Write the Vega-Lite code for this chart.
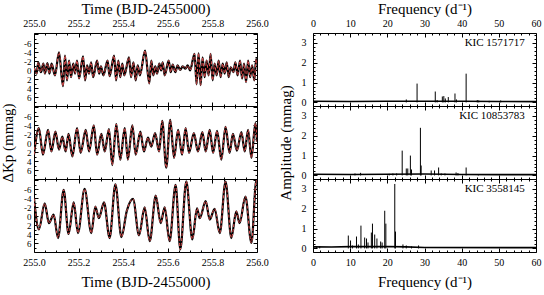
{
"$schema":"https://vega.github.io/schema/vega-lite/v6.json",
"background":"white",
"padding":{"left":0,"top":0,"right":0,"bottom":0},
"config":{
 "font":"Liberation Serif",
 "view":{"stroke":"black","strokeWidth":1},
 "axis":{"labelFont":"Liberation Serif","labelFontSize":10,"titleFont":"Liberation Serif","titleFontSize":15,"titleFontWeight":"normal","labelColor":"black","titleColor":"black","tickColor":"black","domain":false,"grid":false,"labelFlush":false,"labelOverlap":false,"labelBound":false,"offset":0},
 "axisTop":{"labelFont":"Liberation Serif","titleFont":"Liberation Serif","titleFontWeight":"normal"},
 "axisBottom":{"labelFont":"Liberation Serif","titleFont":"Liberation Serif","titleFontWeight":"normal"},
 "axisLeft":{"labelFont":"Liberation Serif","titleFont":"Liberation Serif","titleFontWeight":"normal"},
 "axisRight":{"labelFont":"Liberation Serif","titleFont":"Liberation Serif","titleFontWeight":"normal"}
},
"datasets":{
 "lc1":[{"t":255.000,"v":-0.6},{"t":255.012,"v":0.7},{"t":255.019,"v":-1.8},{"t":255.031,"v":0.4},{"t":255.042,"v":-1.5},{"t":255.049,"v":0.7},{"t":255.060,"v":-1.6},{"t":255.069,"v":0.7},{"t":255.079,"v":-1.5},{"t":255.094,"v":1.1},{"t":255.112,"v":-4.0},{"t":255.130,"v":3.5},{"t":255.139,"v":-3.3},{"t":255.148,"v":2.2},{"t":255.157,"v":-2.2},{"t":255.166,"v":1.5},{"t":255.176,"v":-1.5},{"t":255.184,"v":0.7},{"t":255.193,"v":-2.2},{"t":255.202,"v":1.8},{"t":255.220,"v":-3.1},{"t":255.229,"v":2.2},{"t":255.238,"v":-1.1},{"t":255.247,"v":0.7},{"t":255.256,"v":-1.8},{"t":255.265,"v":1.5},{"t":255.283,"v":-2.2},{"t":255.292,"v":0.7},{"t":255.300,"v":-0.9},{"t":255.311,"v":1.1},{"t":255.330,"v":-2.2},{"t":255.339,"v":1.3},{"t":255.359,"v":-3.3},{"t":255.368,"v":2.2},{"t":255.378,"v":-2.2},{"t":255.387,"v":1.5},{"t":255.396,"v":-1.5},{"t":255.405,"v":1.1},{"t":255.426,"v":-2.9},{"t":255.435,"v":1.5},{"t":255.446,"v":-1.8},{"t":255.456,"v":2.2},{"t":255.465,"v":-1.1},{"t":255.475,"v":1.1},{"t":255.498,"v":-4.4},{"t":255.517,"v":2.9},{"t":255.526,"v":-2.2},{"t":255.535,"v":1.1},{"t":255.544,"v":-0.9},{"t":255.552,"v":0.7},{"t":255.562,"v":-1.5},{"t":255.570,"v":0.0},{"t":255.577,"v":-1.8},{"t":255.586,"v":1.1},{"t":255.604,"v":-2.2},{"t":255.613,"v":0.4},{"t":255.622,"v":-1.3},{"t":255.634,"v":0.4},{"t":255.644,"v":-1.1},{"t":255.655,"v":-0.1},{"t":255.667,"v":-0.9},{"t":255.679,"v":-0.4},{"t":255.689,"v":-1.1},{"t":255.700,"v":0.0},{"t":255.720,"v":-3.7},{"t":255.729,"v":3.1},{"t":255.738,"v":-3.8},{"t":255.747,"v":3.3},{"t":255.756,"v":-2.9},{"t":255.765,"v":1.5},{"t":255.774,"v":-2.2},{"t":255.783,"v":1.1},{"t":255.792,"v":-3.7},{"t":255.801,"v":2.2},{"t":255.810,"v":-1.5},{"t":255.819,"v":1.1},{"t":255.828,"v":-2.2},{"t":255.837,"v":1.5},{"t":255.846,"v":-1.5},{"t":255.855,"v":0.7},{"t":255.864,"v":-1.8},{"t":255.873,"v":1.5},{"t":255.882,"v":-0.7},{"t":255.894,"v":0.4},{"t":255.903,"v":-1.8},{"t":255.913,"v":1.1},{"t":255.924,"v":-2.2},{"t":255.933,"v":1.8},{"t":255.942,"v":-1.5},{"t":255.951,"v":2.6},{"t":255.960,"v":-2.2},{"t":255.969,"v":1.5},{"t":255.978,"v":-1.1},{"t":255.988,"v":2.2},{"t":255.996,"v":-2.5},{"t":256.000,"v":-1.5}],
 "lc2":[{"t":255.000,"v":2.5},{"t":255.022,"v":-3.4},{"t":255.040,"v":2.5},{"t":255.063,"v":-3.0},{"t":255.078,"v":1.8},{"t":255.096,"v":-2.6},{"t":255.112,"v":1.4},{"t":255.127,"v":-1.5},{"t":255.142,"v":1.8},{"t":255.155,"v":-2.1},{"t":255.172,"v":2.9},{"t":255.193,"v":-3.4},{"t":255.209,"v":2.1},{"t":255.232,"v":-3.0},{"t":255.247,"v":1.8},{"t":255.268,"v":-4.0},{"t":255.283,"v":2.5},{"t":255.302,"v":-2.1},{"t":255.317,"v":1.8},{"t":255.336,"v":-3.2},{"t":255.351,"v":4.8},{"t":255.369,"v":-4.3},{"t":255.387,"v":3.6},{"t":255.407,"v":-3.4},{"t":255.421,"v":3.6},{"t":255.441,"v":-4.0},{"t":255.456,"v":2.5},{"t":255.477,"v":-2.6},{"t":255.493,"v":1.8},{"t":255.511,"v":-1.3},{"t":255.526,"v":0.7},{"t":255.543,"v":-2.3},{"t":255.561,"v":1.8},{"t":255.575,"v":-5.0},{"t":255.593,"v":5.4},{"t":255.611,"v":-5.2},{"t":255.628,"v":3.2},{"t":255.646,"v":-3.0},{"t":255.664,"v":2.5},{"t":255.680,"v":-3.4},{"t":255.695,"v":2.1},{"t":255.717,"v":-2.3},{"t":255.735,"v":1.8},{"t":255.755,"v":-2.5},{"t":255.770,"v":1.8},{"t":255.788,"v":-3.0},{"t":255.803,"v":2.1},{"t":255.821,"v":-2.8},{"t":255.840,"v":3.6},{"t":255.859,"v":-3.7},{"t":255.877,"v":2.1},{"t":255.892,"v":-2.1},{"t":255.910,"v":1.6},{"t":255.930,"v":-2.5},{"t":255.945,"v":1.8},{"t":255.960,"v":-3.0},{"t":255.975,"v":3.2},{"t":255.993,"v":-4.5},{"t":256.000,"v":-0.4}],
 "lc3":[{"t":255.000,"v":-4.0},{"t":255.022,"v":2.9},{"t":255.048,"v":-2.9},{"t":255.067,"v":1.5},{"t":255.088,"v":-0.4},{"t":255.108,"v":4.8},{"t":255.133,"v":-5.9},{"t":255.155,"v":3.9},{"t":255.178,"v":-3.1},{"t":255.197,"v":3.7},{"t":255.227,"v":-6.1},{"t":255.257,"v":3.7},{"t":255.275,"v":-2.2},{"t":255.291,"v":0.4},{"t":255.314,"v":-3.1},{"t":255.339,"v":4.8},{"t":255.365,"v":-7.1},{"t":255.392,"v":4.6},{"t":255.416,"v":-1.2},{"t":255.444,"v":-3.9},{"t":255.471,"v":4.2},{"t":255.496,"v":-2.0},{"t":255.519,"v":5.5},{"t":255.546,"v":-4.6},{"t":255.568,"v":1.5},{"t":255.586,"v":-2.0},{"t":255.608,"v":5.5},{"t":255.635,"v":-7.0},{"t":255.656,"v":7.3},{"t":255.683,"v":-7.8},{"t":255.710,"v":5.1},{"t":255.731,"v":-1.8},{"t":255.743,"v":0.4},{"t":255.770,"v":-3.4},{"t":255.788,"v":0.7},{"t":255.810,"v":-1.7},{"t":255.833,"v":3.7},{"t":255.859,"v":-7.7},{"t":255.885,"v":4.8},{"t":255.907,"v":-1.1},{"t":255.922,"v":1.5},{"t":255.948,"v":-4.4},{"t":255.975,"v":5.9},{"t":255.997,"v":-8.0},{"t":256.000,"v":-7.5}],
 "s1":[{"f":25.1,"a":0.15},{"f":28.0,"a":0.95},{"f":32.9,"a":0.55},{"f":33.4,"a":0.12},{"f":34.8,"a":0.3},{"f":35.2,"a":0.32},{"f":35.6,"a":0.2},{"f":36.4,"a":0.27},{"f":38.2,"a":0.45},{"f":38.6,"a":0.15},{"f":41.2,"a":1.45},{"f":44.2,"a":0.12},{"f":44.6,"a":0.1},{"f":47.4,"a":0.08},{"f":50.5,"a":0.1}],
 "s2":[{"f":11.3,"a":0.1},{"f":12.8,"a":0.13},{"f":20.5,"a":0.08},{"f":21.5,"a":0.1},{"f":22.5,"a":0.1},{"f":24.0,"a":1.25},{"f":25.1,"a":0.35},{"f":25.5,"a":0.35},{"f":26.2,"a":1.0},{"f":26.5,"a":0.3},{"f":28.9,"a":2.4},{"f":29.1,"a":0.5},{"f":31.8,"a":0.25},{"f":32.7,"a":0.25},{"f":33.8,"a":0.4},{"f":34.5,"a":0.1},{"f":35.5,"a":0.1},{"f":38.5,"a":0.15},{"f":39.0,"a":0.12},{"f":41.2,"a":0.4},{"f":44.5,"a":0.06}],
 "s3":[{"f":1.0,"a":0.1},{"f":1.8,"a":0.12},{"f":9.5,"a":0.65},{"f":10.1,"a":0.4},{"f":10.6,"a":0.15},{"f":11.7,"a":0.6},{"f":12.2,"a":0.2},{"f":12.9,"a":1.15},{"f":13.9,"a":0.55},{"f":14.4,"a":0.5},{"f":14.8,"a":0.3},{"f":15.7,"a":0.8},{"f":16.0,"a":1.25},{"f":16.6,"a":0.7},{"f":17.2,"a":0.5},{"f":18.2,"a":0.35},{"f":18.6,"a":0.3},{"f":19.3,"a":1.9},{"f":19.6,"a":1.25},{"f":22.0,"a":3.25},{"f":22.2,"a":0.85},{"f":24.2,"a":0.2},{"f":25.1,"a":0.15},{"f":26.5,"a":0.1},{"f":28.4,"a":0.15}],
 "b1":[{"f":0,"a":0.06},{"f":10,"a":0.05},{"f":20,"a":0.06},{"f":30,"a":0.06},{"f":40,"a":0.06},{"f":50,"a":0.05},{"f":60,"a":0.04}],
 "b2":[{"f":0,"a":0.06},{"f":10,"a":0.05},{"f":20,"a":0.06},{"f":30,"a":0.07},{"f":40,"a":0.05},{"f":50,"a":0.04},{"f":60,"a":0.04}],
 "b3":[{"f":0,"a":0.08},{"f":5,"a":0.07},{"f":10,"a":0.09},{"f":20,"a":0.1},{"f":25,"a":0.08},{"f":30,"a":0.05},{"f":60,"a":0.04}]
},
"spacing":8,
"hconcat":[
 {"spacing":0,"bounds":"flush","vconcat":[
  {"width":223,"height":73,"data":{"name":"lc1"},"resolve":{"axis":{"x":"independent","y":"independent"}},"layer":[
   {"mark":{"type":"line","color":"black","strokeWidth":2.2,"interpolate":"monotone","clip":true},
    "encoding":{"x":{"field":"t","type":"quantitative","scale":{"domain":[255,256],"nice":false,"zero":false},"axis":{"orient":"bottom","values":[255,255.05,255.1,255.15,255.2,255.25,255.3,255.35,255.4,255.45,255.5,255.55,255.6,255.65,255.7,255.75,255.8,255.85,255.9,255.95,256],"labels":false,"title":null,"tickSize":{"condition":{"test":"abs(datum.value*5-round(datum.value*5))<0.01","value":-4},"value":-2}}},
     "y":{"field":"v","type":"quantitative","scale":{"domain":[-8.3,7.9],"reverse":true,"nice":false,"zero":false},"axis":{"orient":"left","values":[-8,-7,-6,-5,-4,-3,-2,-1,0,1,2,3,4,5,6,7],"labelExpr":"(datum.value%2==0 && abs(datum.value)<=6) ? ''+datum.value : ''","labelFont":"Liberation Serif","labelFontSize":9,"labelPadding":7,"title":null,"tickSize":{"condition":{"test":"datum.value%2==0","value":-4},"value":-2}}}}},
   {"mark":{"type":"line","color":"#ff5a5a","strokeWidth":0.9,"strokeDash":[3,2],"interpolate":"monotone","clip":true},
    "encoding":{"x":{"field":"t","type":"quantitative","axis":{"orient":"top","values":[255,255.05,255.1,255.15,255.2,255.25,255.3,255.35,255.4,255.45,255.5,255.55,255.6,255.65,255.7,255.75,255.8,255.85,255.9,255.95,256],"labelExpr":"abs(datum.value*5-round(datum.value*5))<0.01 ? format(datum.value,'.1f') : ''","labelFont":"Liberation Serif","labelFontSize":10,"labelPadding":9,"title":"Time (BJD-2455000)","titleFont":"Liberation Serif","titleFontSize":15,"titleFontWeight":"normal","titlePadding":0,"tickSize":{"condition":{"test":"abs(datum.value*5-round(datum.value*5))<0.01","value":-4},"value":-2}}},
     "y":{"field":"v","type":"quantitative","axis":{"orient":"right","values":[-8,-7,-6,-5,-4,-3,-2,-1,0,1,2,3,4,5,6,7],"labels":false,"title":null,"tickSize":{"condition":{"test":"datum.value%2==0","value":-4},"value":-2}}}}}
  ]},
  {"width":223,"height":73,"data":{"name":"lc2"},"resolve":{"axis":{"x":"independent","y":"independent"}},"layer":[
   {"mark":{"type":"line","color":"black","strokeWidth":2.2,"interpolate":"monotone","clip":true},
    "encoding":{"x":{"field":"t","type":"quantitative","scale":{"domain":[255,256],"nice":false,"zero":false},"axis":{"orient":"bottom","values":[255,255.05,255.1,255.15,255.2,255.25,255.3,255.35,255.4,255.45,255.5,255.55,255.6,255.65,255.7,255.75,255.8,255.85,255.9,255.95,256],"labels":false,"title":null,"tickSize":{"condition":{"test":"abs(datum.value*5-round(datum.value*5))<0.01","value":-4},"value":-2}}},
     "y":{"field":"v","type":"quantitative","scale":{"domain":[-8.3,7.9],"reverse":true,"nice":false,"zero":false},"axis":{"orient":"left","values":[-8,-7,-6,-5,-4,-3,-2,-1,0,1,2,3,4,5,6,7],"labelExpr":"(datum.value%2==0 && abs(datum.value)<=6) ? ''+datum.value : ''","labelFont":"Liberation Serif","labelFontSize":9,"labelPadding":7,"title":"ΔKp (mmag)","titleFont":"Liberation Serif","titleFontSize":15,"titleFontWeight":"normal","titlePadding":8,"tickSize":{"condition":{"test":"datum.value%2==0","value":-4},"value":-2}}}}},
   {"mark":{"type":"line","color":"#ff5a5a","strokeWidth":0.9,"strokeDash":[3,2],"interpolate":"monotone","clip":true},
    "encoding":{"x":{"field":"t","type":"quantitative","axis":{"orient":"top","values":[255,255.05,255.1,255.15,255.2,255.25,255.3,255.35,255.4,255.45,255.5,255.55,255.6,255.65,255.7,255.75,255.8,255.85,255.9,255.95,256],"labels":false,"title":null,"tickSize":{"condition":{"test":"abs(datum.value*5-round(datum.value*5))<0.01","value":-4},"value":-2}}},
     "y":{"field":"v","type":"quantitative","axis":{"orient":"right","values":[-8,-7,-6,-5,-4,-3,-2,-1,0,1,2,3,4,5,6,7],"labels":false,"title":null,"tickSize":{"condition":{"test":"datum.value%2==0","value":-4},"value":-2}}}}}
  ]},
  {"width":223,"height":73,"data":{"name":"lc3"},"resolve":{"axis":{"x":"independent","y":"independent"}},"layer":[
   {"mark":{"type":"line","color":"black","strokeWidth":2.2,"interpolate":"monotone","clip":true},
    "encoding":{"x":{"field":"t","type":"quantitative","scale":{"domain":[255,256],"nice":false,"zero":false},"axis":{"orient":"bottom","values":[255,255.05,255.1,255.15,255.2,255.25,255.3,255.35,255.4,255.45,255.5,255.55,255.6,255.65,255.7,255.75,255.8,255.85,255.9,255.95,256],"labelExpr":"abs(datum.value*5-round(datum.value*5))<0.01 ? format(datum.value,'.1f') : ''","labelFont":"Liberation Serif","labelFontSize":10,"labelPadding":9,"title":"Time (BJD-2455000)","titleFont":"Liberation Serif","titleFontSize":15,"titleFontWeight":"normal","titlePadding":5,"tickSize":{"condition":{"test":"abs(datum.value*5-round(datum.value*5))<0.01","value":-4},"value":-2}}},
     "y":{"field":"v","type":"quantitative","scale":{"domain":[-8.3,7.9],"reverse":true,"nice":false,"zero":false},"axis":{"orient":"left","values":[-8,-7,-6,-5,-4,-3,-2,-1,0,1,2,3,4,5,6,7],"labelExpr":"(datum.value%2==0 && abs(datum.value)<=6) ? ''+datum.value : ''","labelFont":"Liberation Serif","labelFontSize":9,"labelPadding":7,"title":null,"tickSize":{"condition":{"test":"datum.value%2==0","value":-4},"value":-2}}}}},
   {"mark":{"type":"line","color":"#ff5a5a","strokeWidth":0.9,"strokeDash":[3,2],"interpolate":"monotone","clip":true},
    "encoding":{"x":{"field":"t","type":"quantitative","axis":{"orient":"top","values":[255,255.05,255.1,255.15,255.2,255.25,255.3,255.35,255.4,255.45,255.5,255.55,255.6,255.65,255.7,255.75,255.8,255.85,255.9,255.95,256],"labels":false,"title":null,"tickSize":{"condition":{"test":"abs(datum.value*5-round(datum.value*5))<0.01","value":-4},"value":-2}}},
     "y":{"field":"v","type":"quantitative","axis":{"orient":"right","values":[-8,-7,-6,-5,-4,-3,-2,-1,0,1,2,3,4,5,6,7],"labels":false,"title":null,"tickSize":{"condition":{"test":"datum.value%2==0","value":-4},"value":-2}}}}}
  ]}
 ]},
 {"spacing":0,"bounds":"flush","vconcat":[
  {"width":223,"height":73,"resolve":{"axis":{"x":"independent","y":"independent"}},"layer":[
   {"data":{"name":"s1"},"mark":{"type":"rule","color":"black","strokeWidth":1,"clip":true},
    "encoding":{"x":{"field":"f","type":"quantitative","scale":{"domain":[0,60],"nice":false,"zero":false},"axis":{"orient":"bottom","values":[0,2,4,6,8,10,12,14,16,18,20,22,24,26,28,30,32,34,36,38,40,42,44,46,48,50,52,54,56,58,60],"labels":false,"title":null,"tickSize":{"condition":{"test":"datum.value%10==0","value":-4},"value":-2}}},
     "y":{"field":"a","type":"quantitative","scale":{"domain":[-0.18,3.5],"nice":false,"zero":false},"axis":{"orient":"left","values":[0,0.2,0.4,0.6,0.8,1,1.2,1.4,1.6,1.8,2,2.2,2.4,2.6,2.8,3,3.2,3.4],"labelExpr":"abs(datum.value-round(datum.value))<0.01 ? ''+round(datum.value) : ''","labelFont":"Liberation Serif","labelFontSize":10,"labelPadding":11,"title":null,"tickSize":{"condition":{"test":"abs(datum.value-round(datum.value))<0.01","value":-4},"value":-2}}},
     "y2":{"datum":0}}},
   {"data":{"name":"b1"},"mark":{"type":"line","color":"black","strokeWidth":1.6,"clip":true},
    "encoding":{"x":{"field":"f","type":"quantitative","axis":{"orient":"top","values":[0,2,4,6,8,10,12,14,16,18,20,22,24,26,28,30,32,34,36,38,40,42,44,46,48,50,52,54,56,58,60],"labelExpr":"datum.value%10==0 ? ''+datum.value : ''","labelFont":"Liberation Serif","labelFontSize":10,"labelPadding":9,"title":"Frequency (d⁻¹)","titleFont":"Liberation Serif","titleFontSize":15,"titleFontWeight":"normal","titlePadding":0,"tickSize":{"condition":{"test":"datum.value%10==0","value":-4},"value":-2}}},
     "y":{"field":"a","type":"quantitative","axis":{"orient":"right","values":[0,0.2,0.4,0.6,0.8,1,1.2,1.4,1.6,1.8,2,2.2,2.4,2.6,2.8,3,3.2,3.4],"labels":false,"title":null,"tickSize":{"condition":{"test":"abs(datum.value-round(datum.value))<0.01","value":-4},"value":-2}}}}},
   {"data":{"values":[{"star":"KIC 1571717"}]},"mark":{"type":"text","align":"right","baseline":"middle","font":"Liberation Serif","fontSize":11,"color":"black"},
    "encoding":{"text":{"field":"star"},"x":{"datum":57,"type":"quantitative","axis":null},"y":{"datum":3.0,"type":"quantitative","axis":null}}}
  ]},
  {"width":223,"height":73,"resolve":{"axis":{"x":"independent","y":"independent"}},"layer":[
   {"data":{"name":"s2"},"mark":{"type":"rule","color":"black","strokeWidth":1,"clip":true},
    "encoding":{"x":{"field":"f","type":"quantitative","scale":{"domain":[0,60],"nice":false,"zero":false},"axis":{"orient":"bottom","values":[0,2,4,6,8,10,12,14,16,18,20,22,24,26,28,30,32,34,36,38,40,42,44,46,48,50,52,54,56,58,60],"labels":false,"title":null,"tickSize":{"condition":{"test":"datum.value%10==0","value":-4},"value":-2}}},
     "y":{"field":"a","type":"quantitative","scale":{"domain":[-0.18,3.5],"nice":false,"zero":false},"axis":{"orient":"left","values":[0,0.2,0.4,0.6,0.8,1,1.2,1.4,1.6,1.8,2,2.2,2.4,2.6,2.8,3,3.2,3.4],"labelExpr":"abs(datum.value-round(datum.value))<0.01 ? ''+round(datum.value) : ''","labelFont":"Liberation Serif","labelFontSize":10,"labelPadding":11,"title":"Amplitude (mmag)","titleFont":"Liberation Serif","titleFontSize":15,"titleFontWeight":"normal","titlePadding":8,"tickSize":{"condition":{"test":"abs(datum.value-round(datum.value))<0.01","value":-4},"value":-2}}},
     "y2":{"datum":0}}},
   {"data":{"name":"b2"},"mark":{"type":"line","color":"black","strokeWidth":1.6,"clip":true},
    "encoding":{"x":{"field":"f","type":"quantitative","axis":{"orient":"top","values":[0,2,4,6,8,10,12,14,16,18,20,22,24,26,28,30,32,34,36,38,40,42,44,46,48,50,52,54,56,58,60],"labels":false,"title":null,"tickSize":{"condition":{"test":"datum.value%10==0","value":-4},"value":-2}}},
     "y":{"field":"a","type":"quantitative","axis":{"orient":"right","values":[0,0.2,0.4,0.6,0.8,1,1.2,1.4,1.6,1.8,2,2.2,2.4,2.6,2.8,3,3.2,3.4],"labels":false,"title":null,"tickSize":{"condition":{"test":"abs(datum.value-round(datum.value))<0.01","value":-4},"value":-2}}}}},
   {"data":{"values":[{"star":"KIC 10853783"}]},"mark":{"type":"text","align":"right","baseline":"middle","font":"Liberation Serif","fontSize":11,"color":"black"},
    "encoding":{"text":{"field":"star"},"x":{"datum":57,"type":"quantitative","axis":null},"y":{"datum":3.0,"type":"quantitative","axis":null}}}
  ]},
  {"width":223,"height":73,"resolve":{"axis":{"x":"independent","y":"independent"}},"layer":[
   {"data":{"name":"s3"},"mark":{"type":"rule","color":"black","strokeWidth":1,"clip":true},
    "encoding":{"x":{"field":"f","type":"quantitative","scale":{"domain":[0,60],"nice":false,"zero":false},"axis":{"orient":"bottom","values":[0,2,4,6,8,10,12,14,16,18,20,22,24,26,28,30,32,34,36,38,40,42,44,46,48,50,52,54,56,58,60],"labelExpr":"datum.value%10==0 ? ''+datum.value : ''","labelFont":"Liberation Serif","labelFontSize":10,"labelPadding":9,"title":"Frequency (d⁻¹)","titleFont":"Liberation Serif","titleFontSize":15,"titleFontWeight":"normal","titlePadding":5,"tickSize":{"condition":{"test":"datum.value%10==0","value":-4},"value":-2}}},
     "y":{"field":"a","type":"quantitative","scale":{"domain":[-0.18,3.5],"nice":false,"zero":false},"axis":{"orient":"left","values":[0,0.2,0.4,0.6,0.8,1,1.2,1.4,1.6,1.8,2,2.2,2.4,2.6,2.8,3,3.2,3.4],"labelExpr":"abs(datum.value-round(datum.value))<0.01 ? ''+round(datum.value) : ''","labelFont":"Liberation Serif","labelFontSize":10,"labelPadding":11,"title":null,"tickSize":{"condition":{"test":"abs(datum.value-round(datum.value))<0.01","value":-4},"value":-2}}},
     "y2":{"datum":0}}},
   {"data":{"name":"b3"},"mark":{"type":"line","color":"black","strokeWidth":1.6,"clip":true},
    "encoding":{"x":{"field":"f","type":"quantitative","axis":{"orient":"top","values":[0,2,4,6,8,10,12,14,16,18,20,22,24,26,28,30,32,34,36,38,40,42,44,46,48,50,52,54,56,58,60],"labels":false,"title":null,"tickSize":{"condition":{"test":"datum.value%10==0","value":-4},"value":-2}}},
     "y":{"field":"a","type":"quantitative","axis":{"orient":"right","values":[0,0.2,0.4,0.6,0.8,1,1.2,1.4,1.6,1.8,2,2.2,2.4,2.6,2.8,3,3.2,3.4],"labels":false,"title":null,"tickSize":{"condition":{"test":"abs(datum.value-round(datum.value))<0.01","value":-4},"value":-2}}}}},
   {"data":{"values":[{"star":"KIC 3558145"}]},"mark":{"type":"text","align":"right","baseline":"middle","font":"Liberation Serif","fontSize":11,"color":"black"},
    "encoding":{"text":{"field":"star"},"x":{"datum":57,"type":"quantitative","axis":null},"y":{"datum":3.0,"type":"quantitative","axis":null}}}
  ]}
 ]}
]
}
